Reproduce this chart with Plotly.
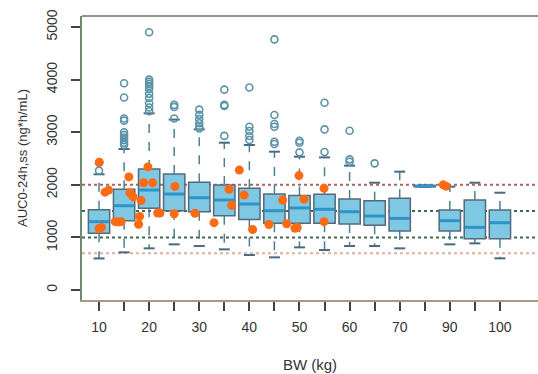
import numpy as np
import plotly.graph_objects as go

# ---- data ----
bw_cats = [10, 15, 20, 25, 30, 35, 40, 45, 50, 55, 60, 65, 70, 80, 90, 95, 100]
tick_text = ["10", "", "20", "", "30", "", "40", "", "50", "", "60", "", "70", "", "90", "", "100"]

lower_w = [600, 716, 792, 868, 836, 773, 665, 621, 811, 760, 836, 836, 792, 1960, 868, 887, 602]
q1 = [1078, 1318, 1553, 1508, 1489, 1413, 1343, 1267, 1267, 1267, 1255, 1229, 1122, 1965, 1122, 976, 976]
median = [1300, 1603, 1901, 1825, 1755, 1711, 1635, 1508, 1560, 1534, 1489, 1407, 1362, 1975, 1318, 1191, 1280]
q3 = [1525, 1914, 2300, 2205, 2047, 1996, 1933, 1825, 1795, 1819, 1730, 1698, 1743, 1985, 1521, 1711, 1521]
upper_w = [2200, 2681, 3359, 3240, 3054, 2801, 2757, 2630, 2535, 2522, 2364, 2040, 2250, 1990, 1965, 2040, 1850]

outliers = {
    10: [2270, 2420],
    15: [3930, 3660, 3260, 3220, 3000, 2950, 2900, 2850, 2800, 2760],
    20: [4900, 4000, 3960, 3920, 3880, 3820, 3730, 3650, 3550, 3470, 3400],
    25: [3260, 3480, 3520],
    30: [3430, 3330, 3250, 3170, 3110, 3070],
    35: [3810, 3520, 3500, 2930],
    40: [3850, 3105, 3023, 2928, 2852],
    45: [4765, 3327, 3156, 3105, 2820, 2776],
    50: [2839, 2800, 2617],
    55: [3561, 3054, 2624],
    60: [3029, 2484, 2440],
    65: [2408],
}

obs_bw = [10.05, 10.0, 10.15, 10.5, 11.2, 11.9, 13.25, 13.9, 14.4, 15.95, 16.15, 16.8, 17.9, 18.1, 18.4,
          19.75, 18.9, 20.7, 21.7, 22.15, 25.15, 25.0, 29.15, 32.95, 35.95, 36.45, 38.0, 38.95,
          40.65, 43.9, 46.65, 47.45, 49.1, 49.55, 49.9, 50.9, 54.9, 54.9, 87.4, 88.5]
obs_auc = [2430, 1170, 1175, 1190, 1860, 1900, 1300, 1295, 1300, 2150, 1850, 1770, 1250, 1400, 1700,
           2340, 2040, 2040, 1465, 1465, 1970, 1450, 1460, 1280, 1915, 1610, 2280, 1806,
           1150, 1245, 1710, 1260, 1175, 1190, 2175, 1727, 1935, 1300, 2000, 1975]

ref_lines = [2000, 1500, 1000, 700]
ref_colors = ["#b06060", "#3d6b4f", "#3d6b4f", "#e2b0a0"]

# ---- derived positions ----
idx = np.arange(len(bw_cats))
obs_x = np.interp(obs_bw, bw_cats, idx)

box_w = 0.85
cap_w = 0.22

fig = go.Figure()

# whiskers (dashed)
wx, wy = [], []
for i in idx:
    wx += [i, i, None, i, i, None]
    wy += [q3[i], upper_w[i], None, q1[i], lower_w[i], None]
fig.add_trace(go.Scatter(x=wx, y=wy, mode="lines",
                         line=dict(color="#4f7f95", width=1.5, dash="dash"),
                         hoverinfo="skip", showlegend=False))
# caps
cx, cy = [], []
for i in idx:
    cx += [i - cap_w, i + cap_w, None, i - cap_w, i + cap_w, None]
    cy += [upper_w[i], upper_w[i], None, lower_w[i], lower_w[i], None]
fig.add_trace(go.Scatter(x=cx, y=cy, mode="lines",
                         line=dict(color="#4a6a80", width=2),
                         hoverinfo="skip", showlegend=False))

# boxes
fig.add_trace(go.Box(x=idx, q1=q1, median=median, q3=q3,
                     lowerfence=q1, upperfence=q3,
                     width=box_w, whiskerwidth=0,
                     fillcolor="#7ec8e3", line=dict(color="#55697a", width=1.5),
                     boxpoints=False, showlegend=False))

# medians
mx, my = [], []
for i in idx:
    mx += [i - box_w / 2 + 0.03, i + box_w / 2 - 0.03, None]
    my += [median[i], median[i], None]
fig.add_trace(go.Scatter(x=mx, y=my, mode="lines",
                         line=dict(color="#2f95c8", width=3),
                         hoverinfo="skip", showlegend=False))

# outliers
ox, oy = [], []
for k, vals in outliers.items():
    i = bw_cats.index(k)
    ox += [i] * len(vals)
    oy += vals
fig.add_trace(go.Scatter(x=ox, y=oy, mode="markers",
                         marker=dict(symbol="circle-open", size=7, color="#5b93a8",
                                     line=dict(width=1.6)),
                         showlegend=False))

# observed points
fig.add_trace(go.Scatter(x=obs_x, y=obs_auc, mode="markers",
                         marker=dict(color="#ff6a13", size=9),
                         showlegend=False))

# reference lines
for v, c in zip(ref_lines, ref_colors):
    fig.add_shape(type="line", xref="paper", x0=0, x1=1, y0=v, y1=v,
                  line=dict(color=c, width=2, dash="dot"), layer="below")

# top border
fig.add_shape(type="line", xref="paper", yref="paper", x0=0, x1=1, y0=1, y1=1,
              line=dict(color="#8a9c8a", width=2))

font = "Liberation Sans, Arial, sans-serif"
fig.update_layout(
    width=538, height=374,
    margin=dict(l=82, r=0, t=16, b=74),
    paper_bgcolor="white", plot_bgcolor="white",
    font=dict(family=font, size=14, color="#333333"),
    xaxis=dict(range=[-0.68, 17.52], tickvals=list(idx), ticktext=tick_text,
               ticks="outside", ticklen=9, tickwidth=1.5, tickcolor="#444444",
               ticklabelstandoff=4,
               showgrid=False, zeroline=False, showline=True, linecolor="#a8988a", linewidth=2,
               title=dict(text="BW (kg)", standoff=26, font=dict(size=15)),
               tickfont=dict(size=14)),
    yaxis=dict(range=[-190, 5210], tickvals=[0, 1000, 2000, 3000, 4000, 5000],
               ticks="outside", ticklen=9, tickwidth=1.5, tickcolor="#444444",
               tickangle=-90, ticklabelstandoff=8,
               showgrid=False, zeroline=False, showline=True, linecolor="#6f8c6f", linewidth=2,
               title=dict(text="AUC0-24h,ss (ng*h/mL)", standoff=14, font=dict(size=13)),
               tickfont=dict(size=14)),
)

fig.write_html("out.html")
